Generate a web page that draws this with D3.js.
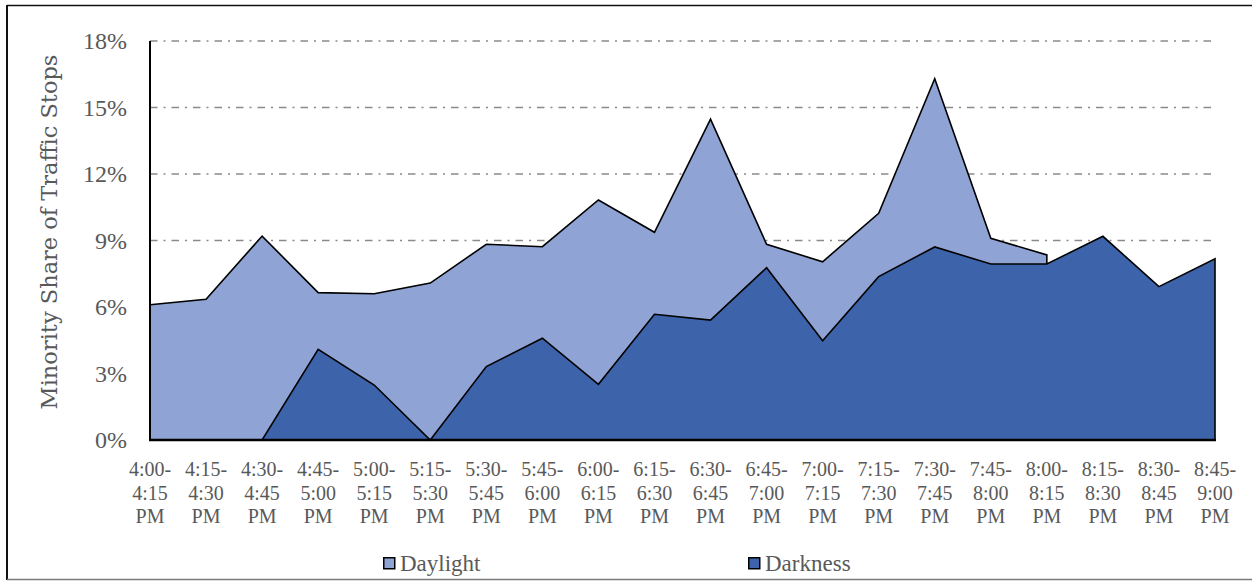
<!DOCTYPE html>
<html>
<head>
<meta charset="utf-8">
<script src="https://cdn.jsdelivr.net/npm/d3@7"></script>
<style>
  html, body { margin: 0; padding: 0; background: #fff; }
  svg { display: block; }
  text { font-family: "Liberation Serif", "DejaVu Serif", serif; fill: #595959; }
  .wide { font-family: "DejaVu Serif", "Liberation Serif", serif; }
</style>
</head>
<body>
<svg id="chart" width="1252" height="581"></svg>
<script>
// 15-minute evening intervals
const intervalStart = ["4:00-","4:15-","4:30-","4:45-","5:00-","5:15-","5:30-","5:45-","6:00-","6:15-",
                       "6:30-","6:45-","7:00-","7:15-","7:30-","7:45-","8:00-","8:15-","8:30-","8:45-"];
const intervalEnd   = ["4:15","4:30","4:45","5:00","5:15","5:30","5:45","6:00","6:15","6:30",
                       "6:45","7:00","7:15","7:30","7:45","8:00","8:15","8:30","8:45","9:00"];

// Minority share of traffic stops (%), daylight ends after 8:00-8:15 PM
const daylight = [6.1, 6.35, 9.2, 6.65, 6.6, 7.08, 8.83, 8.72, 10.83, 9.37,
                  14.47, 8.83, 8.04, 10.23, 16.3, 9.1, 8.35, null, null, null];
const darkness = [0, 0, 0, 4.09, 2.48, 0, 3.31, 4.59, 2.51, 5.67,
                  5.41, 7.77, 4.48, 7.37, 8.71, 7.94, 7.94, 9.19, 6.92, 8.17];

const yTicks = [0, 3, 6, 9, 12, 15, 18];
const seriesNames = ["Daylight", "Darkness"];
const seriesColors = ["#8FA3D4", "#3D64AA"];

const svg = d3.select("#chart");

// outer frame
svg.append("line").attr("x1", 7).attr("y1", 5.5).attr("x2", 1252).attr("y2", 5.5)
  .attr("stroke", "#111").attr("stroke-width", 1.5);
svg.append("line").attr("x1", 7).attr("y1", 5).attr("x2", 7).attr("y2", 580)
  .attr("stroke", "#111").attr("stroke-width", 2);
svg.append("line").attr("x1", 7).attr("y1", 579.5).attr("x2", 1252).attr("y2", 579.5)
  .attr("stroke", "#7a7a7a").attr("stroke-width", 1.5);

const x = d3.scalePoint().domain(d3.range(intervalStart.length)).range([150, 1215]);
const y = d3.scaleLinear().domain([0, 18]).range([440, 41]);

// dash-dot gridlines
svg.append("g").selectAll("line").data(yTicks.filter(d => d > 0)).join("line")
  .attr("x1", 150).attr("x2", 1215)
  .attr("y1", d => y(d)).attr("y2", d => y(d))
  .attr("stroke", "#8a8a8a").attr("stroke-width", 1.5)
  .attr("stroke-dasharray", "7.5,6,2,6");

// y tick labels
svg.append("g").selectAll("text").data(yTicks).join("text")
  .attr("x", 127).attr("y", d => y(d))
  .attr("dy", "0.35em").attr("text-anchor", "end")
  .style("font-size", "24px")
  .text(d => d + "%");

// y axis title
svg.append("text")
  .attr("class", "wide")
  .attr("transform", "translate(57,232) rotate(-90)")
  .attr("text-anchor", "middle")
  .style("font-size", "22.5px")
  .text("Minority Share of Traffic Stops");

// areas: daylight behind, darkness in front
const area = d3.area()
  .defined(d => d.v !== null)
  .x(d => x(d.i))
  .y0(y(0))
  .y1(d => y(d.v));

[daylight, darkness].forEach((vals, k) => {
  const pts = vals.map((v, i) => ({ i, v }));
  svg.append("path")
    .attr("d", area(pts))
    .attr("fill", seriesColors[k])
    .attr("stroke", "#000")
    .attr("stroke-width", 1.6)
    .attr("stroke-linejoin", "miter");
});

// axis lines
svg.append("line").attr("x1", 150).attr("x2", 150).attr("y1", 41).attr("y2", 441)
  .attr("stroke", "#000").attr("stroke-width", 2);
svg.append("line").attr("x1", 149).attr("x2", 1216).attr("y1", 440).attr("y2", 440)
  .attr("stroke", "#000").attr("stroke-width", 2.5);

// x category labels, three lines each
const xl = svg.append("g").selectAll("text").data(d3.range(intervalStart.length)).join("text")
  .attr("text-anchor", "middle")
  .style("font-size", "20px");
[[d => intervalStart[d], 476], [d => intervalEnd[d], 499.5], [() => "PM", 523]].forEach(([f, yy]) => {
  xl.append("tspan").attr("x", d => x(d)).attr("y", yy).text(f);
});

// legend
const legendX = [383, 748];
const lg = svg.append("g").selectAll("g").data(seriesNames).join("g")
  .attr("transform", (d, i) => `translate(${legendX[i]},557)`);
lg.append("rect").attr("x", 0.75).attr("y", 0.75).attr("width", 11).attr("height", 11)
  .attr("fill", (d, i) => seriesColors[i]).attr("stroke", "#000").attr("stroke-width", 1.5);
lg.append("text").attr("x", 17).attr("y", 14)
  .style("font-size", "23px").text(d => d);
</script>
</body>
</html>
